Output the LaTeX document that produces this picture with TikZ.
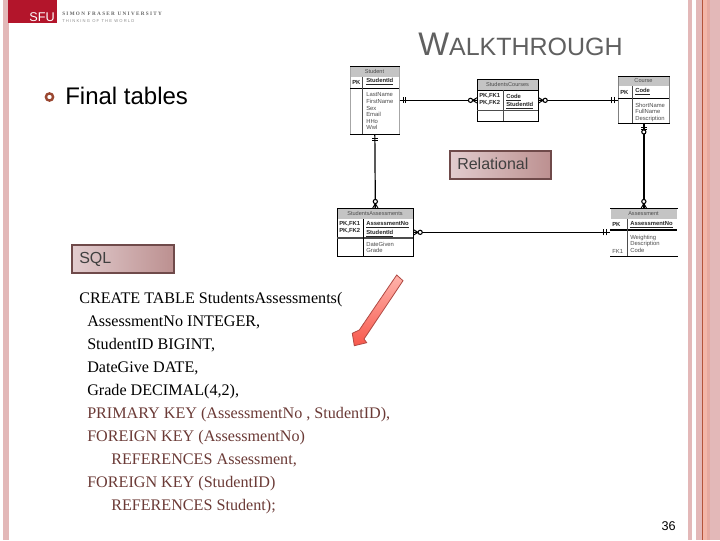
\documentclass[tikz,border=0pt]{standalone}
\usepackage{fontspec}
\setmainfont{Liberation Sans}
\newfontfamily\serifcode{Liberation Serif}
\usetikzlibrary{shadings}
\definecolor{stripe}{HTML}{E3B8B8}
\definecolor{stripeB}{HTML}{F4B6A8}
\definecolor{stripeC}{HTML}{E6A9A0}
\definecolor{stripeLine}{HTML}{B5543A}
\definecolor{sfured}{HTML}{B3152B}
\definecolor{boxedge}{HTML}{6F4A4A}
\definecolor{boxleft}{HTML}{E2CCCE}
\definecolor{boxright}{HTML}{BC9090}
\definecolor{headgrey}{HTML}{C4C4C4}
\definecolor{titlegrey}{HTML}{606060}
\definecolor{codebrown}{HTML}{6B3A36}
\definecolor{arrowedge}{HTML}{B04A44}
\definecolor{arrowlight}{HTML}{FFB4AC}
\definecolor{arrowdark}{HTML}{F8584C}
\newcommand{\pxfont}[2]{\fontsize{#1}{#2}\selectfont}
\tikzset{
  x=0.75pt,y=-0.75pt,
  labelbox/.style={draw=boxedge,line width=1.5pt,left color=boxleft,right color=boxright,
    minimum width=76pt,minimum height=21pt,inner sep=0pt},
  erbox/.style={line width=0.5pt,inner sep=0pt,anchor=north west},
  edgeline/.style={line width=0.75pt,black},
  tinytext/.style={font=\pxfont{4.4}{4.95},text=black!70,inner sep=0pt,align=left},
  keytext/.style={font=\pxfont{4.4}{4.95}\bfseries,text=black!85,inner sep=0pt,align=left},
  headtext/.style={font=\pxfont{4.2}{5},text=black!70,inner sep=0pt},
  codeline/.style={anchor=base west,inner sep=0pt,font=\serifcode\pxfont{12.1}{14}},
  relline/.style={line width=0.9pt},
  crowmark/.pic={
    \draw[line width=0.7pt] (0,-2.6) -- (4.5,0) -- (0,2.6) (0,0) -- (4.5,0);
    \draw[line width=0.8pt,fill=white] (6.5,0) circle (2.1);
  },
  barsmark/.pic={
    \draw[line width=0.7pt] (4,-3) -- (4,3) (6.2,-3) -- (6.2,3);
  },
}
\newcommand{\ertable}[7]{%
  % name, x1, y1, x2, y2, header bottom, side colour
  \fill[headgrey] (#2,#3) rectangle (#4,#6);
  \node[erbox,draw=#7,minimum width={(#4-#2)*0.75pt},minimum height={(#5-#3)*0.75pt}] (#1) at (#2,#3) {};
  \draw[edgeline] (#1.north west) -- (#1.north east);
  \draw[edgeline] (#1.south west) -- (#1.south east);
}
\begin{document}
\begin{tikzpicture}
\useasboundingbox (0,0) rectangle (720,540);
\fill[white] (0,0) rectangle (720,540);
% side stripes
\fill[stripe] (3,0) rectangle (9,540);
\fill[stripe] (688,0) rectangle (692,540);
\fill[stripe] (696,0) rectangle (702,540);
\fill[stripeLine] (702,0) rectangle (703,540);
\fill[stripeB] (703,0) rectangle (707,540);
\fill[stripeC] (707,0) rectangle (710,540);
\fill[stripe] (710,0) rectangle (720,540);
% logo
\fill[sfured] (8,0) rectangle (57,23);
\node[text=white,inner sep=0pt,font=\pxfont{9.5}{11}] (sfu) at (42,17.5) {SFU};
\node[anchor=west,inner sep=0pt,text=black!60,font=\serifcode\pxfont{3.9}{4}\bfseries] (sfuname) at (62,13.5) {S I M O N\ \ F R A S E R\ \ U N I V E R S I T Y};
\node[anchor=west,inner sep=0pt,text=black!45,font=\pxfont{3.1}{4}] (sfutag) at (62,20.8) {T H I N K I N G\ \ O F\ \ T H E\ \ W O R L D};
% title
\node[anchor=base west,inner sep=0pt,text=titlegrey] (title) at (418,55) {\pxfont{24.5}{28}W\pxfont{18.75}{22}ALKTHROUGH};
% bullet
\draw[draw=stripeLine!85!black,line width=1.8pt,fill=white] (49.5,97) circle (3.6);
\node[anchor=base west,inner sep=0pt,font=\pxfont{18}{22},text=black] (final) at (65,104) {Final tables};
% tables
\ertable{stud}{350}{66}{399}{134}{77}{black!35}
\ertable{sc}{477}{79}{538}{121}{90}{black}
\ertable{course}{618}{76}{669}{123}{86}{black!50}
\ertable{sa}{337}{208}{413}{256}{219}{black}
\ertable{asm}{610}{208}{677}{256}{219}{white}
\draw[edgeline] (asm.north west) -- (asm.north east);
\draw[edgeline] (asm.south west) -- (asm.south east);
% internal lines
\draw[line width=0.7pt] (350,88) -- (399,88);
\draw[line width=0.4pt,black!70] (362,77) -- (362,134);
\draw[line width=0.7pt] (477,90) -- (538,90);
\draw[line width=0.5pt,black!70] (477,110) -- (538,110);
\draw[line width=0.4pt,black!70] (503,90) -- (503,121);
\draw[line width=0.7pt] (618,98) -- (669,98);
\draw[line width=0.4pt,black!70] (632,86) -- (632,123);
\draw[line width=1pt,black!70] (337,238) -- (413,238);
\draw[line width=0.5pt] (363,219) -- (363,256);
\draw[line width=0.8pt] (610,230) -- (677,230);
\draw[line width=0.4pt,black!70] (627,219) -- (627,256);
% table headers
\node[headtext] (t1) at (374.5,71.5) {Student};
\node[headtext] (t2) at (507.5,84.5) {StudentsCourses};
\node[headtext] (t3) at (643.5,81) {Course};
\node[headtext] (t4) at (375,213.5) {StudentsAssessments};
\node[headtext] (t5) at (643.5,213.5) {Assessment};
% table texts
\node[keytext,anchor=west] (k1) at (352,82) {PK};
\node[keytext,anchor=west] (k1b) at (366,82) {\underline{StudentId}};
\node[tinytext,anchor=north west] (f1) at (366,92.5) {LastName\\FirstName\\Sex\\Email\\HHo\\Wwl};
\node[keytext,anchor=north west] (k2) at (479,93.5) {PK,FK1\\PK,FK2};
\node[keytext,anchor=north west] (k2b) at (506,93.5) {\underline{Code}\\\underline{StudentId}};
\node[keytext,anchor=west] (k3) at (620,92) {PK};
\node[keytext,anchor=west] (k3b) at (635,92) {\underline{Code}};
\node[tinytext,anchor=north west] (f3) at (635,102.5) {ShortName\\FullName\\Description};
\node[keytext,anchor=north west] (k4) at (339,221.5) {PK,FK1\\PK,FK2};
\node[keytext,anchor=north west] (k4b) at (366,221.5) {\underline{AssessmentNo}\\\underline{StudentId}};
\node[tinytext,anchor=north west] (f4) at (366,241.5) {DateGiven\\Grade};
\node[keytext,anchor=west] (k5) at (612,224.5) {PK};
\node[keytext,anchor=west] (k5b) at (630,224.5) {\underline{AssessmentNo}};
\node[tinytext,anchor=north west] (f5) at (630,234.5) {Weighting\\Description\\Code};
\node[tinytext,anchor=west] (k5c) at (612,251) {FK1};
% relationships
\draw[relline] (stud.east |- sc.west) -- (sc.west);
\draw[relline] (sc.east) -- (course.west |- sc.east);
\draw[relline] (stud.south) -- (sa.north);
\draw[line width=1.6pt] (course.south) -- (asm.north);
\draw[relline] (sa.east) -- (asm.west);
\pic at (stud.east |- sc.west) {barsmark};
\pic[rotate=180] at (sc.west) {crowmark};
\pic at (sc.east) {crowmark};
\pic[rotate=180] at (course.west |- sc.east) {barsmark};
\pic[rotate=-90] at (stud.south) {barsmark};
\pic[rotate=90] at (sa.north) {crowmark};
\pic[rotate=-90] at (course.south) {barsmark};
\draw[line width=0.8pt,fill=white] ([yshift=-6.2pt]course.south) circle (2.1);
\pic[rotate=90] at (asm.north) {crowmark};
\pic at (sa.east) {crowmark};
\pic[rotate=180] at (asm.west) {barsmark};
% label boxes
\node[labelbox] (rel) at (500.5,165) {};
\node[anchor=base west,inner sep=0pt,text=black!75,font=\pxfont{12}{14}] (reltxt) at (457,169.5) {Relational};
\node[labelbox] (sql) at (123,258.5) {};
\node[anchor=base west,inner sep=0pt,text=black!75,font=\pxfont{12}{14}] (sqltxt) at (79,263) {SQL};
% code
\node[codeline] (c1) at (79,303.5) {CREATE TABLE StudentsAssessments(};
\node[codeline] (c2) at (87,326.5) {AssessmentNo INTEGER,};
\node[codeline] (c3) at (87,349.5) {StudentID BIGINT,};
\node[codeline] (c4) at (87,372.5) {DateGive DATE,};
\node[codeline] (c5) at (87,395.5) {Grade DECIMAL(4,2),};
\node[codeline,text=codebrown] (c6) at (87,418.5) {PRIMARY KEY (AssessmentNo , StudentID),};
\node[codeline,text=codebrown] (c7) at (87,441.5) {FOREIGN KEY (AssessmentNo)};
\node[codeline,text=codebrown] (c8) at (111,464.5) {REFERENCES Assessment,};
\node[codeline,text=codebrown] (c9) at (87,487.5) {FOREIGN KEY (StudentID)};
\node[codeline,text=codebrown] (c10) at (111,510.5) {REFERENCES Student);};
% big arrow
\path[draw=arrowedge,line width=0.6pt,top color=arrowlight,bottom color=arrowdark]
  (396.7,275) -- (403,280.7) -- (364,339) -- (366.7,342.7) -- (354.3,345.7) -- (352.3,333.3) -- (359.3,330) -- cycle;
% page number
\node[anchor=base east,inner sep=0pt,font=\pxfont{9.5}{12},text=black] (page) at (676,530.5) {36};
\end{tikzpicture}
\end{document}
